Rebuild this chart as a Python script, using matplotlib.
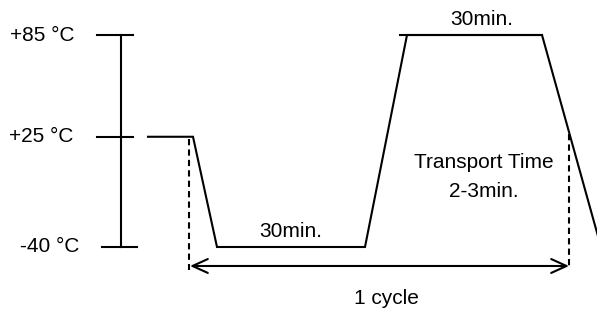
import matplotlib.pyplot as plt

plt.rcParams['font.family'] = ['Liberation Sans', 'DejaVu Sans']
plt.rcParams['lines.scale_dashes'] = False

# temperature levels of the cycle
levels = [85, 25, -40]
level_labels = ["+85 °C", "+25 °C", "-40 °C"]

# chamber temperature profile (time in drawing units, temp in °C)
profile_t = [148, 193, 217, 365, 407, 542, 601]
profile_T = [25, 25, -40, -40, 85, 85, -40]
hot_plateau = (400, 542)

# transport markers and one cycle
transport_t = [189, 569]
cycle_start, cycle_end = 190, 569

fig = plt.figure(figsize=(5.97, 3.11), dpi=100)
ax = fig.add_axes([0, 0, 1, 1])
ax.set_xlim(0, 597)
ax.set_ylim(-77.74, 105.64)
ax.axis('off')

lw = 1.5
# temperature scale
ax.plot([121, 121], [levels[-1], levels[0]], color='black', lw=lw)
tick_x = [(97, 133), (97, 133), (102, 137)]
label_x = [74, 73, 79]
for T, lab, (x0, x1), lx in zip(levels, level_labels, tick_x, label_x):
    ax.plot([x0, x1], [T, T], color='black', lw=lw)
    ax.text(lx, T, lab, ha='right', va='center', fontsize=15)

# profile
ax.plot(profile_t, profile_T, color='black', lw=lw, solid_joinstyle='miter')
ax.plot(hot_plateau, [85, 85], color='black', lw=lw)

# transport time markers
ax.plot([transport_t[0]] * 2, [23.5, -53.6], color='black', lw=lw, dashes=(4.5, 3))
ax.plot([transport_t[1]] * 2, [26.5, -52.5], color='black', lw=lw, dashes=(4.5, 3))

# one cycle arrow
ax.annotate('', xy=(cycle_end, -51.2), xytext=(cycle_start, -51.2),
            arrowprops=dict(arrowstyle='<->,head_length=11,head_width=5',
                            mutation_scale=1, lw=lw, color='black',
                            shrinkA=0, shrinkB=0))

ax.text(291, -34.1, "30min.", ha='center', va='baseline', fontsize=15)
ax.text(482, 91, "30min.", ha='center', va='baseline', fontsize=15)
ax.text(484, 6.6, "Transport Time", ha='center', va='baseline', fontsize=15)
ax.text(484, -10.5, "2-3min.", ha='center', va='baseline', fontsize=15)
ax.text(386, -73.6, "1 cycle", ha='center', va='baseline', fontsize=15)

fig.savefig('out.png', dpi=100)
